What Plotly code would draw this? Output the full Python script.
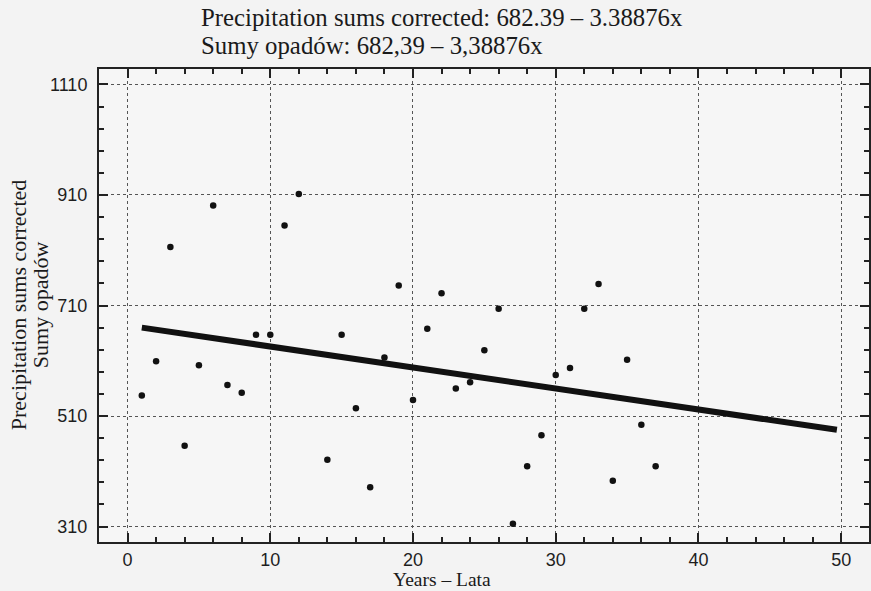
import plotly.graph_objects as go

years = [1, 2, 3, 4, 5, 6, 7, 8, 9, 10, 11, 12, 14, 15, 16, 17, 18, 19, 20,
         21, 22, 23, 24, 25, 26, 27, 28, 29, 30, 31, 32, 33, 34, 35, 36, 37]
precip = [547, 609, 816, 456, 602, 891, 566, 552, 657, 657, 855, 912, 431, 657,
          524, 381, 616, 746, 539, 668, 732, 560, 571, 629, 704, 315, 419, 475,
          584, 597, 704, 749, 393, 612, 494, 419]
trend_x = [1, 49.7]
trend_y = [670, 485]
x_ticks = [0, 10, 20, 30, 40, 50]
y_ticks = [310, 510, 710, 910, 1110]

title_lines = ["Precipitation sums corrected: 682.39 – 3.38876x",
               "Sumy opadów: 682,39 – 3,38876x"]
y_title = ["Precipitation sums corrected", "Sumy opadów"]
x_title = "Years – Lata"

W, H = 871, 591
ML, MR, MT, MB = 99, 0, 69, 49
pw = W - ML - MR
ph = H - MT - MB

def px(xp):
    return (xp - ML) / pw

def py(yp):
    return 1 - (yp - MT) / ph

fig = go.Figure()
fig.add_trace(go.Scatter(x=trend_x, y=trend_y, mode="lines",
                         line=dict(color="#111111", width=6), showlegend=False))
fig.add_trace(go.Scatter(x=years, y=precip, mode="markers",
                         marker=dict(color="#111111", size=6.5), showlegend=False))

axis_common = dict(showline=True, linecolor="#222222", linewidth=2, mirror="ticks",
                   ticks="inside", ticklen=9, tickcolor="#222222", tickwidth=1.5,
                   showgrid=True, gridcolor="#555555", griddash="dot", gridwidth=1,
                   zeroline=False,
                   tickfont=dict(family="Liberation Sans, Arial", size=18, color="#1e1e1e"))

fig.update_xaxes(range=[-2, 51.95], tickvals=x_ticks, ticklabelstandoff=0,
                 minor=dict(dtick=2, tick0=0, ticks="inside", ticklen=5,
                            tickcolor="#222222", showgrid=False),
                 **axis_common)
fig.update_yaxes(range=[282, 1138], tickvals=y_ticks, ticklabelstandoff=6,
                 minor=dict(dtick=40, tick0=310, ticks="inside", ticklen=5,
                            tickcolor="#222222", showgrid=False),
                 **axis_common)

serif = "Liberation Serif, Times New Roman"
ann = []
for i, t in enumerate(title_lines):
    ann.append(dict(text=t, x=px(199), y=py(17 + i * 29), xref="paper", yref="paper",
                    xanchor="left", yanchor="middle", showarrow=False,
                    font=dict(family=serif, size=24.8, color="#1a1a1a")))
for i, t in enumerate(y_title):
    ann.append(dict(text=t, x=px(18 + i * 22), y=py(305), xref="paper", yref="paper",
                    xanchor="center", yanchor="middle", textangle=-90, showarrow=False,
                    font=dict(family=serif, size=22, color="#1a1a1a")))
ann.append(dict(text=x_title, x=px(443), y=py(579), xref="paper", yref="paper",
                xanchor="center", yanchor="middle", showarrow=False,
                font=dict(family=serif, size=19.5, color="#1a1a1a")))

fig.update_layout(width=W, height=H, margin=dict(l=ML, r=MR, t=MT, b=MB),
                  paper_bgcolor="#f3f3f3", plot_bgcolor="#f6f6f6",
                  annotations=ann, showlegend=False)

fig.write_html("out.html", config={"displayModeBar": False},
               post_script="document.body.style.margin='0';document.body.style.overflow='hidden';")
